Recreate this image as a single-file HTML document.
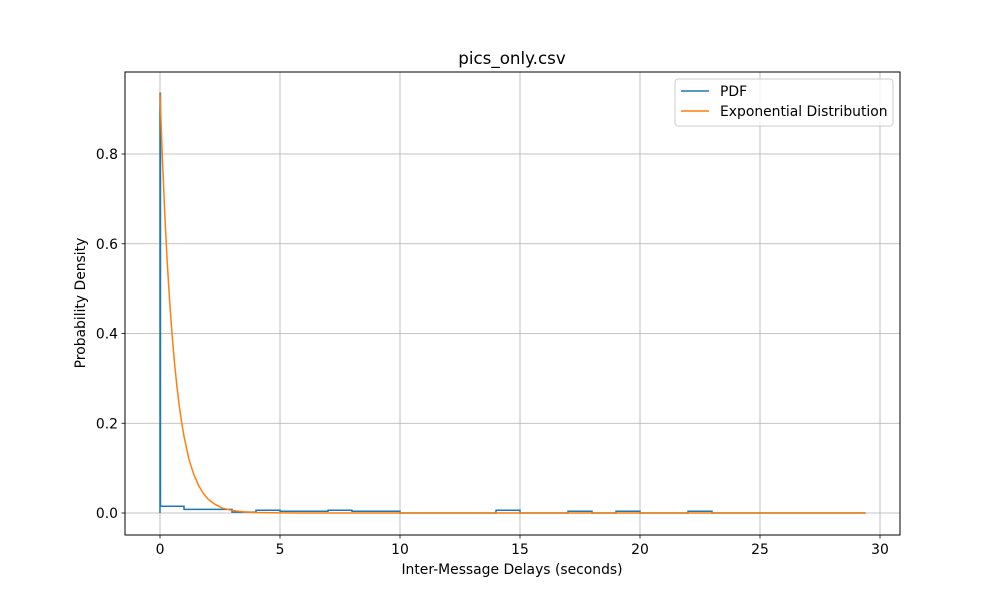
<!DOCTYPE html>
<html><head><meta charset="utf-8"><style>
body{margin:0;background:#fff;font-family:"Liberation Sans","DejaVu Sans",sans-serif}
text{font-family:"DejaVu Sans","Liberation Sans",sans-serif}
</style></head><body>
<svg id="chart" width="1000" height="600" xmlns="http://www.w3.org/2000/svg">
<rect width="1000" height="600" fill="#fff"/>
<g id="grid"></g><g id="series"></g>
<rect x="125" y="72" width="775" height="463" fill="none" stroke="#000" stroke-width="1"/>
<g id="ticks"></g>
<text x="512" y="64" font-size="16.7" text-anchor="middle">pics_only.csv</text>
<text x="512" y="574" font-size="13.9" text-anchor="middle">Inter-Message Delays (seconds)</text>
<text transform="translate(85,303) rotate(-90)" font-size="13.9" text-anchor="middle">Probability Density</text>
<g>
<rect x="675" y="79" width="218" height="47" rx="3" fill="#fff" fill-opacity="0.8" stroke="#ccc"/>
<g><line x1="681" y1="91" x2="709" y2="91" stroke="#1f77b4" stroke-width="1.5"/><text x="720" y="96" font-size="13.9">PDF</text></g>
<g><line x1="681" y1="111" x2="709" y2="111" stroke="#ff7f0e" stroke-width="1.5"/><text x="720" y="116" font-size="13.9">Exponential Distribution</text></g>
</g>
</svg>
<script>
const xTicks=[0,5,10,15,20,25,30];
const yTicks=[0.0,0.2,0.4,0.6,0.8];
const pdfEdges=[0,0.02,1,2,3,4,5,6,7,8,9,10,11,12,13,14,15,16,17,18,19,20,21,22,23,24,25,26,27,28,29,29.4];
const pdfValues=[0.935,0.015,0.008,0.008,0.002,0.006,0.004,0.004,0.006,0.004,0.004,0,0,0,0,0.006,0,0,0.004,0,0.004,0,0,0.004,0,0,0,0,0,0,0];
const expX=[0,0.1,0.2,0.3,0.4,0.5,0.6,0.7,0.8,0.9,1.0,1.2,1.4,1.6,1.8,2.0,2.3,2.6,3.0,3.5,4.0,5,6,8,10,15,20,29.4];
const expY=[0.935,0.79,0.665,0.56,0.473,0.40,0.337,0.284,0.24,0.202,0.171,0.121,0.087,0.062,0.044,0.031,0.019,0.011,0.0057,0.0024,0.001,0.0002,0,0,0,0,0,0];
const sx=v=>160+v*24, sy=v=>513-v*448.75;
const NS="http://www.w3.org/2000/svg";
function mk(tag,attrs,parent){const e=document.createElementNS(NS,tag);for(const k in attrs)e.setAttribute(k,attrs[k]);parent.appendChild(e);return e;}
const grid=document.getElementById('grid'),ticks=document.getElementById('ticks'),series=document.getElementById('series');
xTicks.forEach(t=>{const x=sx(t);
 const g=mk('line',{x1:x,x2:x,y1:72,y2:535,stroke:'#b0b0b0','stroke-width':0.8},grid);
 
 
 mk('line',{x1:x,x2:x,y1:535,y2:538.5,stroke:'#000','stroke-width':0.8},ticks);
 const l=mk('text',{x:x,y:554,'font-size':13.9,'text-anchor':'middle'},ticks);l.textContent=t;
 
 });
yTicks.forEach(t=>{const y=sy(t);
 const g=mk('line',{x1:125,x2:900,y1:y,y2:y,stroke:'#b0b0b0','stroke-width':0.8},grid);
 
 
 mk('line',{x1:121.5,x2:125,y1:y,y2:y,stroke:'#000','stroke-width':0.8},ticks);
 const l=mk('text',{x:118,y:y+5,'font-size':13.9,'text-anchor':'end'},ticks);l.textContent=t.toFixed(1);
 
 });
let d=`M${sx(pdfEdges[0])},${sy(0)}`;
pdfValues.forEach((v,i)=>{d+=` L${sx(pdfEdges[i])},${sy(v)} L${sx(pdfEdges[i+1])},${sy(v)}`;});
const p=mk('path',{d:d,fill:'none',stroke:'#1f77b4','stroke-width':1.5},series);


const e=mk('path',{d:expX.map((x,i)=>(i?'L':'M')+sx(x)+','+sy(expY[i])).join(' '),fill:'none',stroke:'#ff7f0e','stroke-width':1.5},series);


</script>
</body></html>
